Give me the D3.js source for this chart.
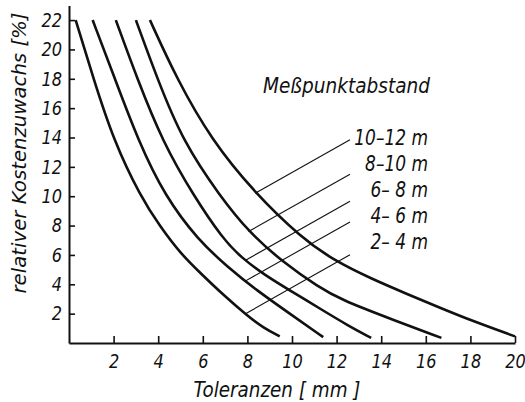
<!DOCTYPE html>
<html><head><meta charset="utf-8">
<script src="https://cdn.jsdelivr.net/npm/d3@7"></script>
<style>
body{margin:0;background:#fff;}
svg text{font-family:"DejaVu Sans",sans-serif;font-style:italic;fill:#111;}
</style></head><body>
<svg id="chart" width="525" height="402"></svg>
<script>
// ---- data ----
const seriesLabels = ["2– 4 m", "4– 6 m", "6– 8 m", "8–10 m", "10–12 m"];
const curve_2_4   = [[0.3,22],[1.1,18],[2.0,13.8],[3.2,10],[4.1,7.9],[5.0,6.1],[5.9,4.75],[6.9,3.3],[8.0,1.85],[8.7,1.05],[9.45,0.45]];
const curve_4_6   = [[1.06,22],[2.06,18],[3.1,13.8],[4.3,10],[5.8,7.0],[7.1,5.2],[8.4,3.6],[9.9,2.0],[11.4,0.4]];
const curve_6_8   = [[2.1,22],[3.06,18],[4.2,13.7],[5.6,10],[6.9,7.1],[7.7,5.85],[8.8,4.6],[10.0,3.5],[11.3,2.3],[12.5,1.2],[13.55,0.35]];
const curve_8_10  = [[3.0,22],[3.96,18],[5.1,13.75],[6.77,10],[8.1,7.5],[9.6,5.5],[11.2,3.8],[12.2,2.95],[14.4,1.65],[16.7,0.35]];
const curve_10_12 = [[3.63,22],[4.83,18],[6.4,13.8],[8.35,10.2],[10.4,7.2],[11.9,5.6],[13.6,4.35],[15.14,3.35],[16.64,2.4],[18.13,1.48],[20,0.45]];
const leaderAnchorX = [7.9, 7.9, 7.9, 8.05, 8.35];
const xTicks = [2,4,6,8,10,12,14,16,18,20];
const yTicks = [2,4,6,8,10,12,14,16,18,20,22];
const xTitle = "Toleranzen [ mm ]";
const yTitle = "relativer Kostenzuwachs [%]";
const legendTitle = "Meßpunktabstand";

const allSeries = [curve_2_4, curve_4_6, curve_6_8, curve_8_10, curve_10_12];

// ---- layout ----
const svg = d3.select("#chart");
const x = d3.scaleLinear().domain([0,20]).range([69,515]);
const y = d3.scaleLinear().domain([0,23]).range([343,5.4]);
const sx = 0.83; // horizontal compression of lettering

const xAxis = d3.axisBottom(x).tickValues(xTicks).tickSizeInner(-7).tickSizeOuter(0).tickPadding(11).tickFormat(d3.format("d"));
const yAxis = d3.axisLeft(y).tickValues(yTicks).tickSizeInner(-6).tickSizeOuter(0).tickPadding(7).tickFormat(d3.format("d"));

const gx = svg.append("g").attr("transform","translate(0,343)").call(xAxis);
const gy = svg.append("g").attr("transform","translate(69,0)").call(yAxis);
[gx,gy].forEach(g=>{
  g.attr("font-family",null).attr("font-size",null);
  g.select(".domain").attr("stroke","#111").attr("stroke-width",2);
  g.selectAll(".tick line").attr("stroke","#111").attr("stroke-width",1.6);
  g.selectAll(".tick text").attr("font-size",19.5).attr("fill","#111");
});
gx.selectAll(".tick text").attr("transform",`scale(${sx},1)`);
gy.selectAll(".tick text").attr("x",-7/sx).attr("transform",`scale(${sx},1)`);

// curves
const line = d3.line().x(d=>x(d[0])).y(d=>y(d[1])).curve(d3.curveBasis);
svg.append("g").selectAll("path").data(allSeries).join("path")
  .attr("d", line).attr("fill","none").attr("stroke","#111").attr("stroke-width",2.6);

// leader lines
function interp(series, xv){
  for(let i=0;i<series.length-1;i++){
    const a=series[i], b=series[i+1];
    if(xv>=a[0] && xv<=b[0]){ const t=(xv-a[0])/(b[0]-a[0]); return a[1]+t*(b[1]-a[1]); }
  }
  return series[series.length-1][1];
}
const labelBaselines = [249,223,197,171,145];
allSeries.forEach((s,i)=>{
  const px = x(leaderAnchorX[i]), py = y(interp(s, leaderAnchorX[i]));
  const ex = 350, ey = py - 0.565*(ex - px);
  svg.append("line").attr("x1",px).attr("y1",py).attr("x2",ex).attr("y2",ey)
    .attr("stroke","#111").attr("stroke-width",1.1);
  svg.append("text").attr("transform",`translate(428,${labelBaselines[i]}) scale(${sx},1)`)
    .attr("text-anchor","end").attr("font-size",20.5)
    .attr("xml:space","preserve").style("white-space","pre").text(seriesLabels[i]);
});

svg.append("text").attr("x",263).attr("y",93).attr("font-size",20.5)
  .attr("textLength",167).attr("lengthAdjust","spacingAndGlyphs").text(legendTitle);
svg.append("text").attr("x",277).attr("y",397).attr("font-size",20.5).attr("text-anchor","middle")
  .attr("textLength",167).attr("lengthAdjust","spacingAndGlyphs").style("white-space","pre").text(xTitle);
svg.append("text").attr("transform","translate(26,153) rotate(-90)").attr("font-size",20).attr("text-anchor","middle")
  .attr("textLength",281).attr("lengthAdjust","spacingAndGlyphs").text(yTitle);
</script>
</body></html>
